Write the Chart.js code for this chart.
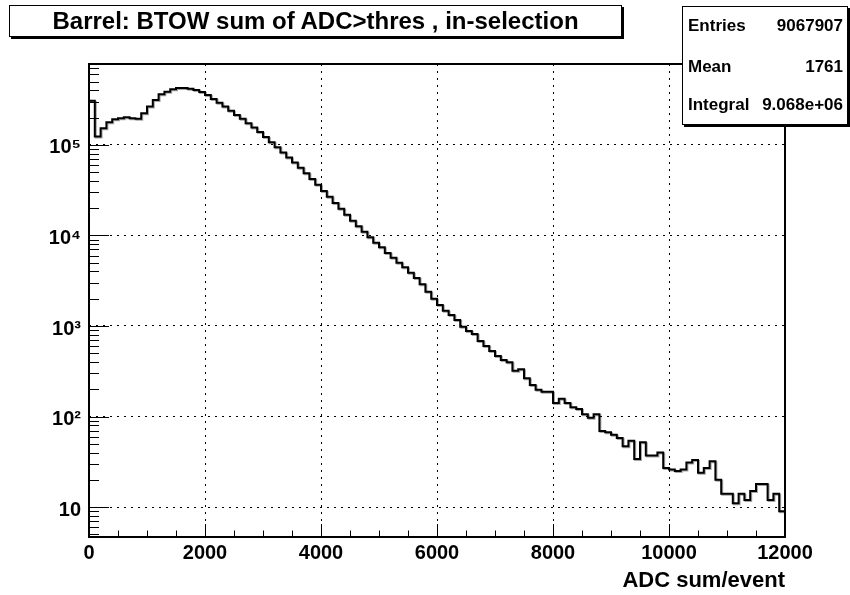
<!DOCTYPE html>
<html>
<head>
<meta charset="utf-8">
<script src="https://cdn.jsdelivr.net/npm/chart.js@4.4.0/dist/chart.umd.min.js"></script>
<style>
html,body{margin:0;padding:0;background:#fff;}
#wrap{position:relative;width:850px;height:595px;overflow:hidden;}
#c{position:absolute;left:0;top:0;}
.box{position:absolute;background:#fff;border:1px solid #000;box-shadow:2px 2px 0 #000;font-family:"Liberation Sans",Arial,sans-serif;font-weight:bold;color:#000;box-sizing:border-box;}
#title{left:9px;top:5px;width:613px;height:32px;font-size:24px;line-height:30px;text-align:center;white-space:nowrap;}
#stats{left:682px;top:6px;width:166px;height:119px;font-size:17px;}
.row{position:absolute;left:5px;right:4px;height:20px;line-height:20px;display:flex;justify-content:space-between;white-space:nowrap;}
</style>
</head>
<body>
<div id="wrap">
<canvas id="c" width="850" height="595"></canvas>
<div id="title" class="box"></div>
<div id="stats" class="box"></div>
</div>
<script>
// ---- data ----
const titleText = 'Barrel: BTOW sum of ADC>thres , in-selection';
const xAxisTitle = 'ADC sum/event';
const statLabels = ['Entries', 'Mean', 'Integral'];
const statValues = ['9067907', '1761', '9.068e+06'];
const xTickValues = [0, 2000, 4000, 6000, 8000, 10000, 12000];
const xTickLabels = ['0', '2000', '4000', '6000', '8000', '10000', '12000'];
const yTickValues = [10, 100, 1000, 10000, 100000];
const yTickLabels = ['10', '10\u00B2', '10\u00B3', '10\u2074', '10\u2075'];
const binWidth = 100;
const counts = [
  308000, 124000, 153000, 178000, 192000, 197000, 202000, 197000, 195000, 224000,
  265000, 314000, 363000, 387000, 412000, 426000, 426000, 418000, 405000, 385000,
  356000, 322000, 293000, 265000, 239000, 214000, 194000, 173000, 156000, 139000,
  122000, 107000, 94400, 82300, 72800, 63800, 55800, 48500, 42100, 36200,
  31000, 26700, 22900, 19700, 16900, 14500, 12600, 11000, 9530, 8290,
  7390, 6420, 5660, 4990, 4450, 3870, 3380, 2890, 2390, 2000,
  1706, 1475, 1322, 1165, 982, 881, 816, 683, 601, 529,
  466, 421, 397, 321, 333, 265, 223, 197, 188, 188,
  141, 157, 141, 127, 121, 106, 97, 106, 69, 67,
  63, 58, 47, 54, 34, 52, 37, 37, 40, 27,
  26, 25, 26, 31, 33, 24, 27, 32, 20, 14,
  14, 11, 14, 12, 15, 18, 18, 12, 14, 9
];
const xMin = 0, xMax = 12000;
const yMin = 4.67, yMax = 7.83e5;

// ---- text boxes ----
document.getElementById('title').textContent = titleText;
const statsEl = document.getElementById('stats');
const rowTops = [9, 50, 88];
statLabels.forEach((lab, i) => {
  const r = document.createElement('div');
  r.className = 'row';
  r.style.top = rowTops[i] + 'px';
  const a = document.createElement('span'); a.textContent = lab;
  const b = document.createElement('span'); b.textContent = statValues[i];
  r.appendChild(a); r.appendChild(b);
  statsEl.appendChild(r);
});

// ---- histogram points (bin low edges + closing edge) ----
const points = counts.map((c, i) => ({ x: xMin + i * binWidth, y: c }));
points.push({ x: xMax, y: counts[counts.length - 1] });

const FONT = '"Liberation Sans", Arial, sans-serif';

const shadowPlugin = {
  id: 'histShadow',
  beforeDatasetDraw(chart) {
    const ctx = chart.ctx;
    ctx.save();
    ctx.shadowColor = 'rgba(0,0,0,0.35)';
    ctx.shadowOffsetX = 1;
    ctx.shadowOffsetY = 1;
    ctx.shadowBlur = 0;
  },
  afterDatasetDraw(chart) { chart.ctx.restore(); }
};

const framePlugin = {
  id: 'frameTicks',
  afterDatasetsDraw(chart) {
    const { ctx, chartArea: a, scales: { x, y } } = chart;
    ctx.save();
    ctx.strokeStyle = '#000';
    ctx.lineWidth = 1;
    ctx.beginPath();
    for (let v = xMin; v <= xMax; v += 500) {
      const px = Math.round(x.getPixelForValue(v)) + 0.5;
      const len = (v % 2000 === 0) ? 13 : 6.5;
      ctx.moveTo(px, a.bottom);
      ctx.lineTo(px, a.bottom - len);
    }
    for (let e = 0; e <= 6; e++) {
      for (let m = 1; m <= 9; m++) {
        const v = m * Math.pow(10, e);
        if (v < yMin || v > yMax) continue;
        const py = Math.round(y.getPixelForValue(v)) + 0.5;
        const len = (m === 1) ? 20 : 10;
        ctx.moveTo(a.left, py);
        ctx.lineTo(a.left + len, py);
      }
    }
    ctx.stroke();
    ctx.lineWidth = 2;
    ctx.strokeRect(a.left, a.top, a.right - a.left, a.bottom - a.top);
    ctx.restore();
  }
};

new Chart(document.getElementById('c'), {
  type: 'line',
  data: {
    datasets: [{
      data: points,
      stepped: true,
      borderColor: '#000',
      borderWidth: 2,
      pointRadius: 0,
      fill: false
    }]
  },
  options: {
    responsive: false,
    animation: false,
    devicePixelRatio: 1,
    layout: { padding: { top: 64, right: 65, bottom: 0, left: 0 } },
    plugins: { legend: { display: false }, tooltip: { enabled: false }, title: { display: false } },
    scales: {
      x: {
        type: 'linear', min: xMin, max: xMax,
        afterBuildTicks: s => { s.ticks = xTickValues.map(v => ({ value: v })); },
        afterFit: s => { s.height = 58; },
        ticks: {
          font: { family: FONT, size: 20, weight: 'bold' }, color: '#000',
          padding: 4, maxRotation: 0, autoSkip: false,
          callback: v => xTickLabels[xTickValues.indexOf(v)]
        },
        grid: { color: '#000', lineWidth: 1, drawTicks: false },
        border: { display: false, dash: [2, 5] },
        title: {
          display: true, text: xAxisTitle, align: 'end', color: '#000',
          font: { family: FONT, size: 22, weight: 'bold' }, padding: { top: 0, bottom: 1 }
        }
      },
      y: {
        type: 'logarithmic', min: yMin, max: yMax,
        afterBuildTicks: s => { s.ticks = yTickValues.map(v => ({ value: v })); },
        afterFit: s => { s.width = 89; },
        ticks: {
          font: { family: FONT, size: 20, weight: 'bold' }, color: '#000',
          padding: 8, autoSkip: false, labelOffset: 3,
          callback: v => yTickLabels[yTickValues.indexOf(v)]
        },
        grid: { color: '#000', lineWidth: 1, drawTicks: false },
        border: { display: false, dash: [2, 5] }
      }
    }
  },
  plugins: [shadowPlugin, framePlugin]
});
</script>
</body>
</html>
